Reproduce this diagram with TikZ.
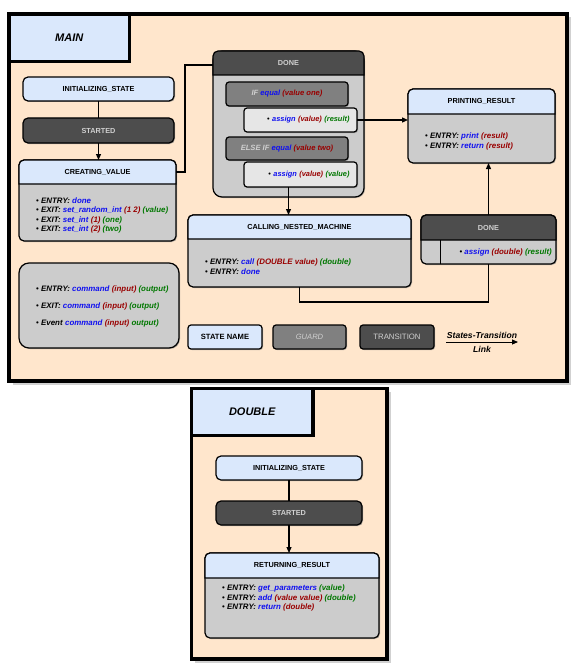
\documentclass[tikz,border=0pt]{standalone}
\usepackage{fontspec}
\setmainfont{Liberation Sans}
\usetikzlibrary{arrows.meta,shadows}

\definecolor{pfirsich}{HTML}{FFE6CC}
\definecolor{hellblau}{HTML}{DAE8FC}
\definecolor{grau}{HTML}{CCCCCC}
\definecolor{dunkel}{HTML}{4D4D4D}
\definecolor{mittel}{HTML}{808080}
\definecolor{hell}{HTML}{E6E6E6}
\definecolor{schrift}{HTML}{D0D0D0}
\definecolor{fblau}{HTML}{1010F0}
\definecolor{frot}{HTML}{990000}
\definecolor{fgruen}{HTML}{007700}

\newcommand{\kw}[1]{\textbf{\textit{#1}}}
\newcommand{\fkt}[1]{\textcolor{fblau}{\textbf{\textit{#1}}}}
\newcommand{\ein}[1]{\textcolor{frot}{\textbf{\textit{#1}}}}
\newcommand{\aus}[1]{\textcolor{fgruen}{\textbf{\textit{#1}}}}

% Kopfzeile eines Zustands
\newcommand{\kopf}[3]{\draw[fill=#3,line width=1.2pt] ([yshift=-#2]#1.north west) [rounded corners=5pt] -- (#1.north west) -- (#1.north east) [sharp corners] -- ([yshift=-#2]#1.north east) -- cycle;}

\begin{document}
\begin{tikzpicture}[x=1pt,y=-1pt,
    >={Triangle[length=6pt,width=5pt]},
    rahmen/.style={draw,line width=3.5pt,fill=pfirsich,anchor=north west,inner sep=0pt,outer sep=0pt,
        drop shadow={shadow xshift=3.5pt,shadow yshift=-3.5pt,fill=black!18,opacity=1}},
    titel/.style={draw,line width=3.5pt,fill=hellblau,anchor=north west,inner sep=0pt,outer sep=0pt,
        font=\fontsize{11}{13}\selectfont\bfseries\itshape},
    zustand/.style={draw,line width=1.2pt,rounded corners=5pt,fill=grau,anchor=north west,inner sep=0pt,outer sep=0pt,
        font=\fontsize{7.3}{9}\selectfont\bfseries,
        drop shadow={shadow xshift=1pt,shadow yshift=-1pt,opacity=.6}},
    wache/.style={zustand,rounded corners=3pt,fill=mittel,text=schrift,font=\fontsize{7.6}{9}\selectfont\bfseries\itshape},
    aktion/.style={zustand,rounded corners=3pt,fill=hell,text width=98pt,align=right,font=\fontsize{7.4}{9}\selectfont},
    kopftext/.style={font=\fontsize{7.3}{9}\selectfont\bfseries},
    liste/.style={anchor=west,inner sep=0pt,align=left,font=\fontsize{7.9}{9.5}\selectfont},
    verbindung/.style={line width=1.2pt}]
    \useasboundingbox (0,0) rectangle (580,666);

    % Hauptmaschine
    \node[rahmen,minimum width=558,minimum height=367] (haupt) at (9,14) {};
    \node[titel,minimum width=120.5,minimum height=47.5] (main) at (9,14) {MAIN};

    \node[zustand,fill=hellblau,minimum width=151,minimum height=24] (init) at (23,77) {INITIALIZING\_STATE};
    \node[zustand,fill=dunkel,text=schrift,minimum width=151,minimum height=25] (started) at (23,118) {STARTED};

    % CREATING_VALUE
    \node[zustand,minimum width=157,minimum height=81] (cv) at (19,160) {};
    \kopf{cv}{24}{hellblau}
    \node[kopftext] (cvk) at ([yshift=-12]cv.north) {CREATING\_VALUE};
    \node[liste] (cvl) at (36,215.5) {\textbullet\ \kw{ENTRY:} \fkt{done}\\
        \textbullet\ \kw{EXIT:} \fkt{set\_random\_int} \ein{(1 2)} \aus{(value)}\\
        \textbullet\ \kw{EXIT:} \fkt{set\_int} \ein{(1)} \aus{(one)}\\
        \textbullet\ \kw{EXIT:} \fkt{set\_int} \ein{(2)} \aus{(two)}};

    % DONE mit Waechtern
    \node[zustand,rounded corners=9pt,minimum width=151,minimum height=146] (dn) at (213,51) {};
    \kopf{dn}{24}{dunkel}
    \node[kopftext,text=schrift] (dnk) at ([yshift=-12]dn.north) {DONE};
    \node[wache,minimum width=122,minimum height=24] (g1) at (226,82) {IF \fkt{equal} \ein{(value one)}};
    \node[aktion,minimum width=113,minimum height=24] (a1) at (244,108) {\textbullet\ \fkt{assign} \ein{(value)} \aus{(result)}};
    \node[wache,minimum width=122,minimum height=23] (g2) at (226,137) {ELSE IF \fkt{equal} \ein{(value two)}};
    \node[aktion,minimum width=113,minimum height=25] (a2) at (244,162) {\textbullet\ \fkt{assign} \ein{(value)} \aus{(value)}};

    % PRINTING_RESULT
    \node[zustand,minimum width=147,minimum height=74] (pr) at (408,89) {};
    \kopf{pr}{25}{hellblau}
    \node[kopftext] (prk) at ([yshift=-12.5]pr.north) {PRINTING\_RESULT};
    \node[liste] (prl) at (425,141.5) {\textbullet\ \kw{ENTRY:} \fkt{print} \ein{(result)}\\
        \textbullet\ \kw{ENTRY:} \fkt{return} \ein{(result)}};

    % CALLING_NESTED_MACHINE
    \node[zustand,minimum width=223,minimum height=72] (cnm) at (188,215) {};
    \kopf{cnm}{24}{hellblau}
    \node[kopftext] (cnmk) at ([yshift=-12]cnm.north) {CALLING\_NESTED\_MACHINE};
    \node[liste] (cnml) at (205,266.5) {\textbullet\ \kw{ENTRY:} \fkt{call} \ein{(DOUBLE value)} \aus{(double)}\\
        \textbullet\ \kw{ENTRY:} \fkt{done}};

    % DONE rechts
    \node[zustand,minimum width=135,minimum height=49] (dn2) at (421,215) {};
    \kopf{dn2}{25}{dunkel}
    \node[kopftext,text=schrift] (dn2k) at ([yshift=-12.5]dn2.north) {DONE};
    \draw[line width=0.6pt] ([xshift=19]dn2.south west) -- ([xshift=19,yshift=-25]dn2.north west);
    \node[liste,anchor=east] (dn2l) at (552,252) {\textbullet\ \fkt{assign} \ein{(double)} \aus{(result)}};

    % Legende
    \node[zustand,rounded corners=10pt,minimum width=160,minimum height=85] (leg) at (19,263) {};
    \node[liste,font=\fontsize{7.9}{17}\selectfont] (legl) at (36,306) {\textbullet\ \kw{ENTRY:} \fkt{command} \ein{(input)} \aus{(output)}\\
        \textbullet\ \kw{EXIT:} \fkt{command} \ein{(input)} \aus{(output)}\\
        \textbullet\ \kw{Event} \fkt{command} \ein{(input)} \aus{output)}};
    \node[zustand,rounded corners=3pt,fill=hellblau,minimum width=74,minimum height=24,font={\fontsize{7.6}{9}\selectfont\bfseries}] (lzs) at (188,325) {STATE NAME};
    \node[wache,minimum width=73,minimum height=24,font={\fontsize{7.6}{9}\selectfont\itshape}] (lwa) at (273,325) {GUARD};
    \node[zustand,rounded corners=3pt,fill=dunkel,text=schrift,minimum width=74,minimum height=24,font={\fontsize{7.8}{9}\selectfont}] (ltr) at (360,325) {TRANSITION};
    \coordinate (lp1) at (446,342);
    \coordinate (lp2) at (518,342);
    \draw[->,line width=0.9pt] (lp1) -- (lp2)
        node[midway,above,font=\fontsize{8.6}{10}\selectfont\bfseries\itshape] {States-Transition}
        node[midway,below,font=\fontsize{8.6}{10}\selectfont\bfseries\itshape] {Link};

    % Verbindungen
    \draw[verbindung] (init) -- (started);
    \draw[verbindung,->] (started.south) -- (started.south |- cv.north);
    \draw[verbindung] (cvk -| cv.east) -- ++(9,0) |- ([yshift=-2]dnk -| dn.west);
    \draw[verbindung,->] (a1.east) -- (a1.east -| pr.west);
    \draw[verbindung,->] (a2.south -| dn.south) -- (dn.south |- cnm.north);
    \draw[verbindung] (cnm.south) -- ++(0,15) -| (dn2.south);
    \draw[verbindung,->] (dn2.north) -- (dn2.north |- pr.south);

    % Maschine DOUBLE
    \node[rahmen,minimum width=195.5,minimum height=270.5] (dbl) at (191.5,388.5) {};
    \node[titel,minimum width=121.5,minimum height=47] (double) at (191.5,388.5) {DOUBLE};
    \node[zustand,fill=hellblau,minimum width=146,minimum height=24] (dinit) at (216,456) {INITIALIZING\_STATE};
    \node[zustand,fill=dunkel,text=schrift,minimum width=146,minimum height=24] (dstarted) at (216,501) {STARTED};
    \node[zustand,minimum width=174,minimum height=85] (ret) at (205,553) {};
    \kopf{ret}{25}{hellblau}
    \node[kopftext] (retk) at ([yshift=-12.5]ret.north) {RETURNING\_RESULT};
    \node[liste] (retl) at (222,598) {\textbullet\ \kw{ENTRY:} \fkt{get\_parameters} \aus{(value)}\\
        \textbullet\ \kw{ENTRY:} \fkt{add} \ein{(value value)} \aus{(double)}\\
        \textbullet\ \kw{ENTRY:} \fkt{return} \ein{(double)}};

    \draw[verbindung] (dinit) -- (dstarted);
    \draw[verbindung,->] (dstarted.south) -- (dstarted.south |- ret.north);
\end{tikzpicture}
\end{document}
